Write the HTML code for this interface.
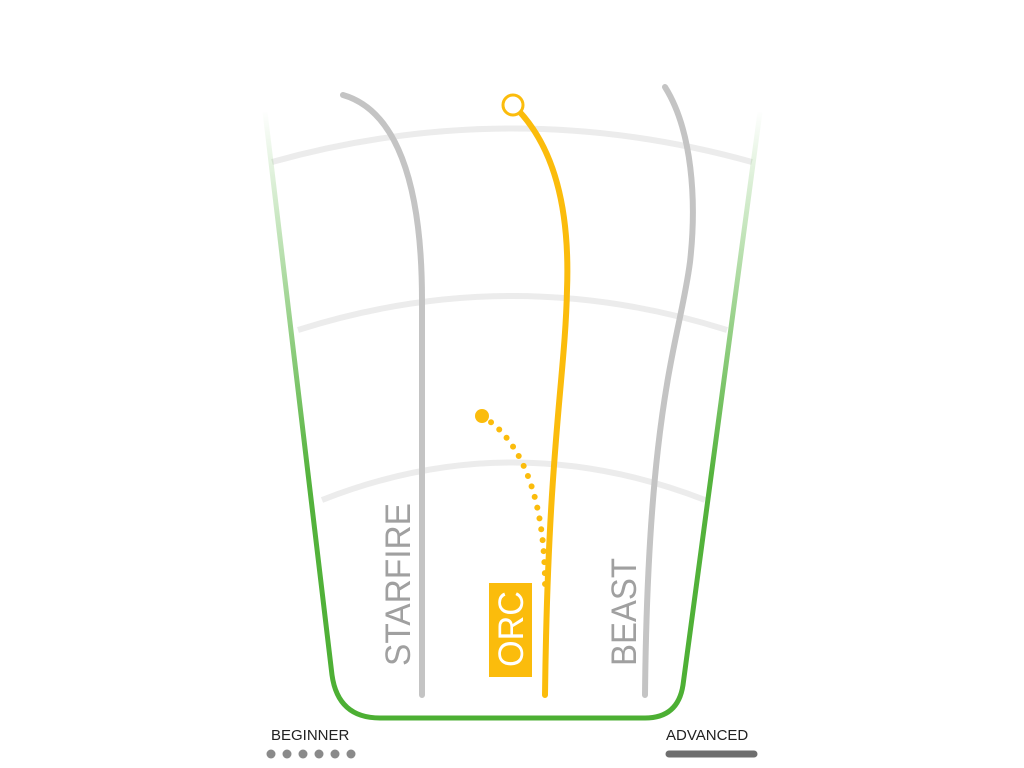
<!DOCTYPE html>
<html><head><style>body{margin:0;background:#fff}svg{display:block}</style></head><body>
<svg width="1024" height="768" viewBox="0 0 1024 768" xmlns="http://www.w3.org/2000/svg" font-family="Liberation Sans, sans-serif">
<defs>
<linearGradient id="g" x1="0" y1="110" x2="0" y2="720" gradientUnits="userSpaceOnUse">
<stop offset="0" stop-color="#4caf33" stop-opacity="0"/>
<stop offset="0.3" stop-color="#4caf33" stop-opacity="0.5"/>
<stop offset="0.6" stop-color="#4caf33" stop-opacity="0.95"/>
<stop offset="1" stop-color="#4caf33"/>
</linearGradient>
</defs>
<g fill="none" stroke="#ececec" stroke-width="6">
<path d="M272,162 Q512,95 752,162"/>
<path d="M298,330 Q512,262 727,330"/>
<path d="M322,500 Q512,425 705,500"/>
</g>
<path d="M265,112 L332,675 Q338,718 380,718 L645,718 Q678,718 683,685 L760,112" fill="none" stroke="url(#g)" stroke-width="5"/>
<g fill="none" stroke="#c4c4c4" stroke-width="6" stroke-linecap="round">
<path d="M343,95 C395,110 422,180 422,300 L422,695"/>
<path d="M665,87 C692,130 697,200 690,262 C680,340 648,400 645,695"/>
</g>
<path d="M513,105 C555,145 570,210 567,290 C565,380 548,450 545,695" fill="none" stroke="#fbbc0c" stroke-width="6" stroke-linecap="round"/>
<circle cx="513" cy="105" r="10" fill="#fff" stroke="#fbbc0c" stroke-width="3"/>
<path d="M482,416 C522,440 546,500 545,592" fill="none" stroke="#fbbc0c" stroke-width="6" stroke-linecap="round" stroke-dasharray="0 11"/>
<circle cx="482" cy="416" r="7" fill="#fbbc0c"/>
<text transform="translate(410,666) rotate(-90)" font-size="35" fill="#a0a0a0" textLength="163" lengthAdjust="spacingAndGlyphs">STARFIRE</text>
<rect x="489" y="583" width="43" height="94" fill="#fbbc0c"/>
<text transform="translate(523,667) rotate(-90)" font-size="35" fill="#fff" textLength="76" lengthAdjust="spacingAndGlyphs">ORC</text>
<text transform="translate(636,666) rotate(-90)" font-size="35" fill="#a0a0a0" textLength="108" lengthAdjust="spacingAndGlyphs">BEAST</text>
<text x="271" y="740" font-size="15" fill="#222">BEGINNER</text>
<text x="666" y="740" font-size="15" fill="#222">ADVANCED</text>
<g fill="#8a8a8a">
<circle cx="271" cy="754" r="4.5"/><circle cx="287" cy="754" r="4.5"/><circle cx="303" cy="754" r="4.5"/><circle cx="319" cy="754" r="4.5"/><circle cx="335" cy="754" r="4.5"/><circle cx="351" cy="754" r="4.5"/>
</g>
<line x1="669" y1="754" x2="754" y2="754" stroke="#6e6e6e" stroke-width="7" stroke-linecap="round"/>
</svg>
</body></html>
